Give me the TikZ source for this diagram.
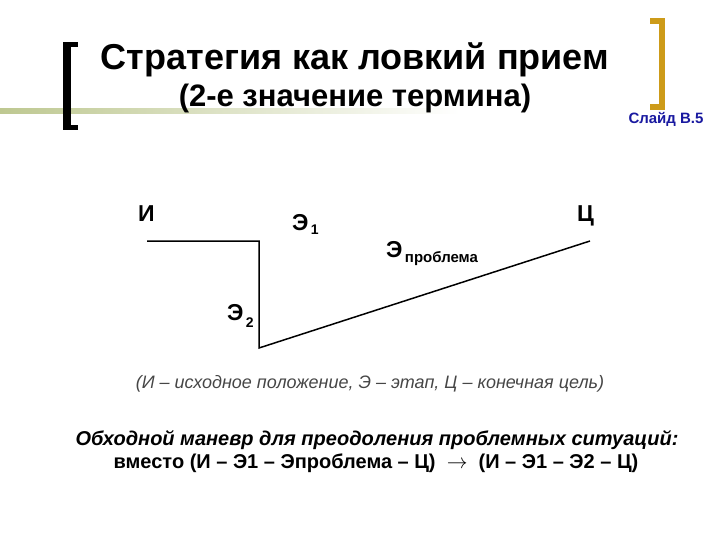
\documentclass[tikz,border=0pt]{standalone}
\usepackage{fontspec}
\setmainfont{Liberation Sans}
\usepackage{tikz}
\tikzset{>=latex}
\usetikzlibrary{calc,positioning}
\definecolor{bracketgold}{RGB}{205,155,25}
\definecolor{slideblue}{RGB}{25,25,160}
\definecolor{bandgreen}{RGB}{190,200,145}
\definecolor{notegray}{RGB}{70,70,70}
\tikzset{
    letter/.style={anchor=base west,inner sep=0pt,font=\fontsize{23}{26}\selectfont\bfseries},
    route/.style={line width=1.5pt},
    idx/.style={anchor=base west,inner sep=0pt,font=\fontsize{14}{16}\selectfont\bfseries}
}
\begin{document}
\begin{tikzpicture}[x=1pt,y=-1pt]
                \useasboundingbox (0,0) rectangle (720,540);
                \shade[left color=bandgreen,right color=white] (0,109) rectangle (460,114);
                \fill (63,42) rectangle (78,47);
                \fill (63,42) rectangle (71,130);
                \fill (63,125) rectangle (78,130);
                \fill[bracketgold] (650,18) rectangle (665,24);
                \fill[bracketgold] (659,18) rectangle (665,110);
                \fill[bracketgold] (650,104) rectangle (665,110);
                \node[anchor=base,font=\fontsize{36}{40}\selectfont\bfseries] (title) at (355,70) {Стратегия как ловкий прием};
                \node[anchor=base,font=\fontsize{31}{34}\selectfont\bfseries] (subtitle) at (355,107) {(2-е значение термина)};
                \node[anchor=base,inner sep=0pt,slideblue,font=\fontsize{15}{17}\selectfont\bfseries] (slide) at (666,124) {Слайд В.5};
                \coordinate (start) at (147,241);
                \coordinate (bend) at (259,241);
                \coordinate (low) at (259,348);
                \coordinate (goal) at (590,241);
                \draw[route] (start) -- (bend) -- (low) -- (goal);
                \node[letter] (I) at (138,222) {И};
                \node[letter] (E1) at (292,230) {Э};
                \node[idx] (E1idx) at ($(E1.base east)+(2,5)$) {1};
                \node[letter] (Ep) at (386,257) {Э};
                \node[idx,font=\fontsize{15}{16}\selectfont\bfseries] (Epidx) at ($(Ep.base east)+(2,5)$) {проблема};
                \node[letter] (C) at (577,222) {Ц};
                \node[letter] (E2) at (227,320) {Э};
                \node[idx] (E2idx) at ($(E2.base east)+(2,7)$) {2};
                \node[anchor=base,notegray,font=\fontsize{18}{20}\selectfont\itshape] (legend) at (370,388) {(И – исходное положение, Э – этап, Ц – конечная цель)};
                \node[anchor=base,inner sep=0pt,font=\fontsize{20}{22}\selectfont\bfseries\itshape] (detour) at (377,445) {Обходной маневр для преодоления проблемных ситуаций:};
                \node[anchor=base,inner sep=0pt,font=\fontsize{20}{22}\selectfont\bfseries] (instead) at (376,468) {вместо (И – Э1 – Эпроблема – Ц)\ \ $\rightarrow$\ \ (И – Э1 – Э2 – Ц)};
            \end{tikzpicture}
\end{document}
